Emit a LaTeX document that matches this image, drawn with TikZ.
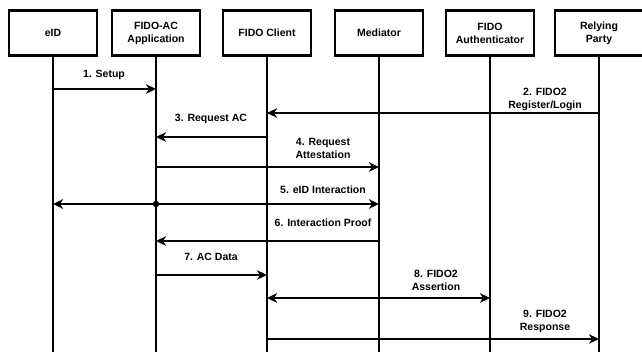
\documentclass[tikz,border=0pt]{standalone}
\usepackage{fontspec}
\setmainfont{Liberation Sans}
\usetikzlibrary{arrows.meta}
\tikzset{
  tip/.tip={Stealth[length=10pt, width=9.5pt, inset=3pt]},
  actor/.style={draw, line width=2.2pt, minimum width=88pt, minimum height=45pt, inner sep=0pt, align=center, font=\bfseries\fontsize{10.5}{13}\selectfont},
  life/.style={line width=2.2pt},
  msg/.style={line width=2pt, -tip},
  dmsg/.style={line width=2pt, tip-tip},
  lbl/.style={align=center, inner sep=0pt, font=\bfseries\fontsize{10.5}{13}\selectfont},
  dotnode/.style={circle, fill, inner sep=0pt, minimum size=6.5pt}
}
\begin{document}
\begin{tikzpicture}[x=1pt, y=-1pt]
\useasboundingbox (0,0) rectangle (642,351);
\fill[white] (0,0) rectangle (642,351);
% actors
\node[actor] (eid) at (53,33) {eID};
\node[actor] (ac)  at (156,33) {FIDO-AC\\Application};
\node[actor] (fc)  at (267,33) {FIDO Client};
\node[actor] (med) at (379,33) {Mediator};
\node[actor] (fa)  at (490,33) {FIDO\\Authenticator};
\node[actor] (rp)  at (599,33) {Relying\\Party};
% lifelines
\foreach \a in {eid,ac,fc,med,fa,rp}{
  \draw[life] (\a.south) -- (\a.south |- 0,352);
}
% 1
\draw[msg] (eid |- 0,89) -- (ac |- 0,89);
\node[lbl] (l1) at (104,75) {1. Setup};
% 2
\draw[msg] (rp |- 0,113) -- (fc |- 0,113);
\node[lbl] (l2) at (545,99.5) {2. FIDO2\\Register/Login};
% 3
\draw[msg] (fc |- 0,137) -- (ac |- 0,137);
\node[lbl] (l3) at (211,119) {3. Request AC};
% 4
\draw[msg] (ac |- 0,167) -- (med |- 0,167);
\node[lbl] (l4) at (323,148.5) {4. Request\\Attestation};
% 5
\node[dotnode] (d5) at (ac |- 0,204) {};
\draw[msg] (d5.center) -- (eid |- d5);
\draw[msg] (d5.center) -- (med |- d5);
\node[lbl] (l5) at (323,190) {5. eID Interaction};
% 6
\draw[msg] (med |- 0,241) -- (ac |- 0,241);
\node[lbl] (l6) at (323,223) {6. Interaction Proof};
% 7
\draw[msg] (ac |- 0,275) -- (fc |- 0,275);
\node[lbl] (l7) at (211,257) {7. AC Data};
% 8
\draw[dmsg] (fc |- 0,298) -- (fa |- 0,298);
\node[lbl] (l8) at (436,280) {8. FIDO2\\Assertion};
% 9
\draw[msg] (fc |- 0,339) -- (rp |- 0,339);
\node[lbl] (l9) at (545,321.5) {9. FIDO2\\Response};
\end{tikzpicture}
\end{document}
